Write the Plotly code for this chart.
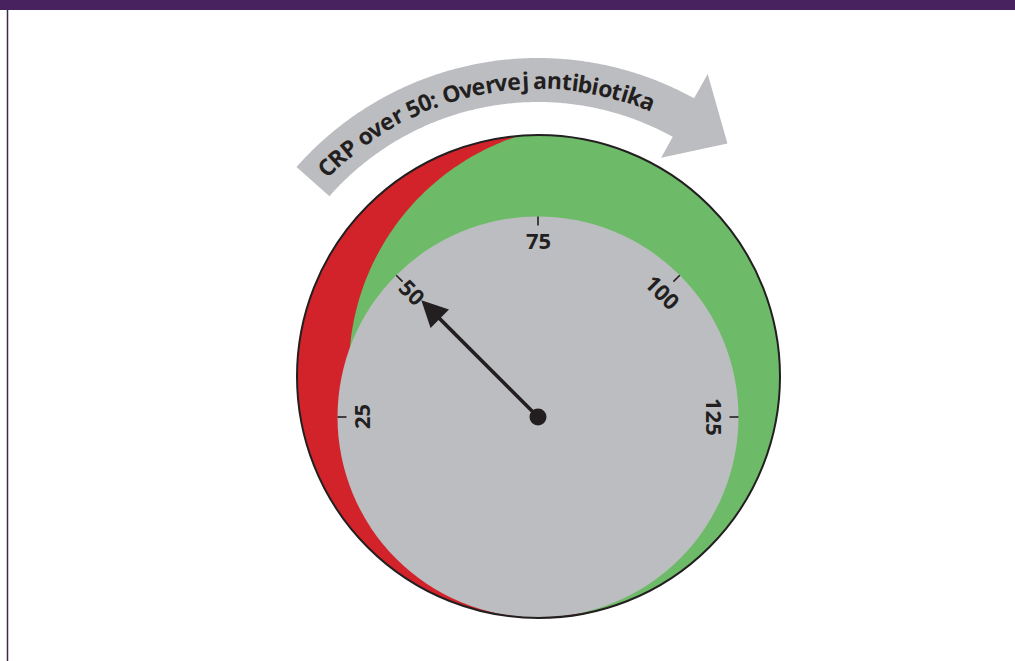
import numpy as np
import plotly.graph_objects as go

# ---------------- data ----------------
tick_values = [25, 50, 75, 100, 125]
tick_labels = ["25", "50", "75", "100", "125"]
tick_label_rotation = [-90, 45, 0, 45, 90]
needle_value = [50]
banner_text = "CRP over 50: Overvej antibiotika"

# ---------------- style / geometry ----------------
W, H = 1015, 661
RED = "#D2232A"
GREEN = "#6DBB68"
GRAY = "#BCBDC0"
INK = "#231F20"
PURPLE = "#48215F"
FONT = "Open Sans"

OUT_C, OUT_R = (538.5, 376.5), 241.5      # outer dial rim
GRN_C, GRN_R = (594.0, 369.0), 245.0      # green zone disk
DIAL_C, DIAL_R = (538.0, 417.0), 200.5    # grey face
ARC_C = (538.0, 380.0)                    # banner arc centre
ARC_RO, ARC_RI = 322.0, 278.0
ARC_START, ARC_END = 138.6, 61.0
V_MIN, V_MAX, A_MIN, A_MAX = 25, 125, 180.0, 0.0


def pt(c, r, deg):
    t = np.radians(deg)
    return c[0] + r * np.cos(t), c[1] - r * np.sin(t)


def val_to_deg(v):
    return A_MIN + (v - V_MIN) * (A_MAX - A_MIN) / (V_MAX - V_MIN)


def poly_path(xs, ys):
    s = "M %.2f,%.2f " % (xs[0], ys[0])
    s += " ".join("L %.2f,%.2f" % (x, y) for x, y in zip(xs[1:], ys[1:]))
    return s + " Z"


shapes = []
annotations = []

# top purple band and left rule
shapes.append(dict(type="rect", x0=0, x1=W, y0=0, y1=10, fillcolor=PURPLE,
                   line=dict(width=0), layer="below"))
shapes.append(dict(type="line", x0=7.5, x1=7.5, y0=10, y1=H,
                   line=dict(color="#3B2A48", width=1.5)))

# outer disk (red)
shapes.append(dict(type="circle", x0=OUT_C[0] - OUT_R, x1=OUT_C[0] + OUT_R,
                   y0=OUT_C[1] - OUT_R, y1=OUT_C[1] + OUT_R,
                   fillcolor=RED, line=dict(width=0)))

# green zone = outer disk ∩ green disk (math coords, y up)
Om = np.array([OUT_C[0], -OUT_C[1]]); Gm = np.array([GRN_C[0], -GRN_C[1]])
d = np.linalg.norm(Gm - Om)
a = (OUT_R**2 - GRN_R**2 + d**2) / (2 * d)
h = np.sqrt(OUT_R**2 - a**2)
phi = np.degrees(np.arctan2(*(Gm - Om)[::-1]))
alpha = np.degrees(np.arctan2(h, a))
beta = np.degrees(np.arctan2(h, d - a))
psi = phi + 180
t1 = np.linspace(phi - alpha, phi + alpha, 200)
t2 = np.linspace(psi - beta, psi + beta, 200)
gx = list(OUT_C[0] + OUT_R * np.cos(np.radians(t1))) + list(GRN_C[0] + GRN_R * np.cos(np.radians(t2)))
gy = list(OUT_C[1] - OUT_R * np.sin(np.radians(t1))) + list(GRN_C[1] - GRN_R * np.sin(np.radians(t2)))
shapes.append(dict(type="path", path=poly_path(gx, gy), fillcolor=GREEN, line=dict(width=0)))

# grey face
shapes.append(dict(type="circle", x0=DIAL_C[0] - DIAL_R, x1=DIAL_C[0] + DIAL_R,
                   y0=DIAL_C[1] - DIAL_R, y1=DIAL_C[1] + DIAL_R,
                   fillcolor=GRAY, line=dict(width=0)))

# rim outline
shapes.append(dict(type="circle", x0=OUT_C[0] - OUT_R, x1=OUT_C[0] + OUT_R,
                   y0=OUT_C[1] - OUT_R, y1=OUT_C[1] + OUT_R,
                   fillcolor="rgba(0,0,0,0)", line=dict(color=INK, width=2)))

# ticks and labels
for v, lab, rot in zip(tick_values, tick_labels, tick_label_rotation):
    ang = val_to_deg(v)
    x0, y0 = pt(DIAL_C, DIAL_R, ang)
    x1, y1 = pt(DIAL_C, DIAL_R - 9, ang)
    shapes.append(dict(type="line", x0=x0, y0=y0, x1=x1, y1=y1,
                       line=dict(color=INK, width=1.6)))
    lx, ly = pt(DIAL_C, 177, ang)
    annotations.append(dict(x=lx, y=ly, xref="x", yref="y", text=lab,
                            showarrow=False, textangle=rot,
                            xanchor="center", yanchor="middle",
                            font=dict(family=FONT, size=22, color=INK, weight=700)))

# needle
for v in needle_value:
    ang = val_to_deg(v)
    tx, ty = pt(DIAL_C, 165, ang)
    annotations.append(dict(x=tx, y=ty, xref="x", yref="y", ax=DIAL_C[0], ay=DIAL_C[1],
                            axref="x", ayref="y", text="", showarrow=True,
                            arrowhead=2, arrowsize=1.45, arrowwidth=3.6,
                            arrowcolor=INK, standoff=0, startstandoff=0))
shapes.append(dict(type="circle", x0=DIAL_C[0] - 8.5, x1=DIAL_C[0] + 8.5,
                   y0=DIAL_C[1] - 8.5, y1=DIAL_C[1] + 8.5,
                   fillcolor=INK, line=dict(width=0)))

# curved banner arrow
ta = np.linspace(ARC_START, ARC_END, 200)
bx = list(ARC_C[0] + ARC_RO * np.cos(np.radians(ta)))
by = list(ARC_C[1] - ARC_RO * np.sin(np.radians(ta)))
for (r, ang) in [(350, ARC_END), (303, 51.3), (254, ARC_END)]:
    x, y = pt(ARC_C, r, ang)
    bx.append(x); by.append(y)
bx += list(ARC_C[0] + ARC_RI * np.cos(np.radians(ta[::-1])))
by += list(ARC_C[1] - ARC_RI * np.sin(np.radians(ta[::-1])))
shapes.append(dict(type="path", path=poly_path(bx, by), fillcolor=GRAY, line=dict(width=0)))

# text along the banner arc
cw = {" ": 0.26, "C": 0.61, "R": 0.65, "P": 0.61, "O": 0.78, "o": 0.60, "v": 0.55,
      "e": 0.58, "r": 0.43, "5": 0.57, "0": 0.57, ":": 0.27, "j": 0.28, "a": 0.59,
      "n": 0.64, "t": 0.42, "i": 0.29, "b": 0.62, "k": 0.59}
widths = np.array([cw.get(ch, 0.55) for ch in banner_text])
centers = np.cumsum(widths) - widths / 2
total = widths.sum()
T_START, T_END, T_R = 136.2, 67.2, 300.0
for ch, c in zip(banner_text, centers):
    if ch == " ":
        continue
    ang = T_START - (c / total) * (T_START - T_END)
    x, y = pt(ARC_C, T_R, ang)
    annotations.append(dict(x=x, y=y, xref="x", yref="y", text=ch, showarrow=False,
                            textangle=90 - ang, xanchor="center", yanchor="middle",
                            font=dict(family=FONT, size=23, color=INK, weight=700)))

fig = go.Figure()
fig.add_trace(go.Scatter(x=[0, W], y=[0, H], mode="markers",
                         marker=dict(opacity=0), hoverinfo="skip", showlegend=False))
fig.update_layout(
    width=W, height=H, margin=dict(l=0, r=0, t=0, b=0),
    paper_bgcolor="white", plot_bgcolor="white",
    xaxis=dict(range=[0, W], visible=False, fixedrange=True),
    yaxis=dict(range=[H, 0], visible=False, fixedrange=True),
    shapes=shapes, annotations=annotations, showlegend=False,
)
fig.write_html("out.html", config={"displayModeBar": False},
               post_script="document.body.style.margin='0';document.body.style.overflow='hidden';")
